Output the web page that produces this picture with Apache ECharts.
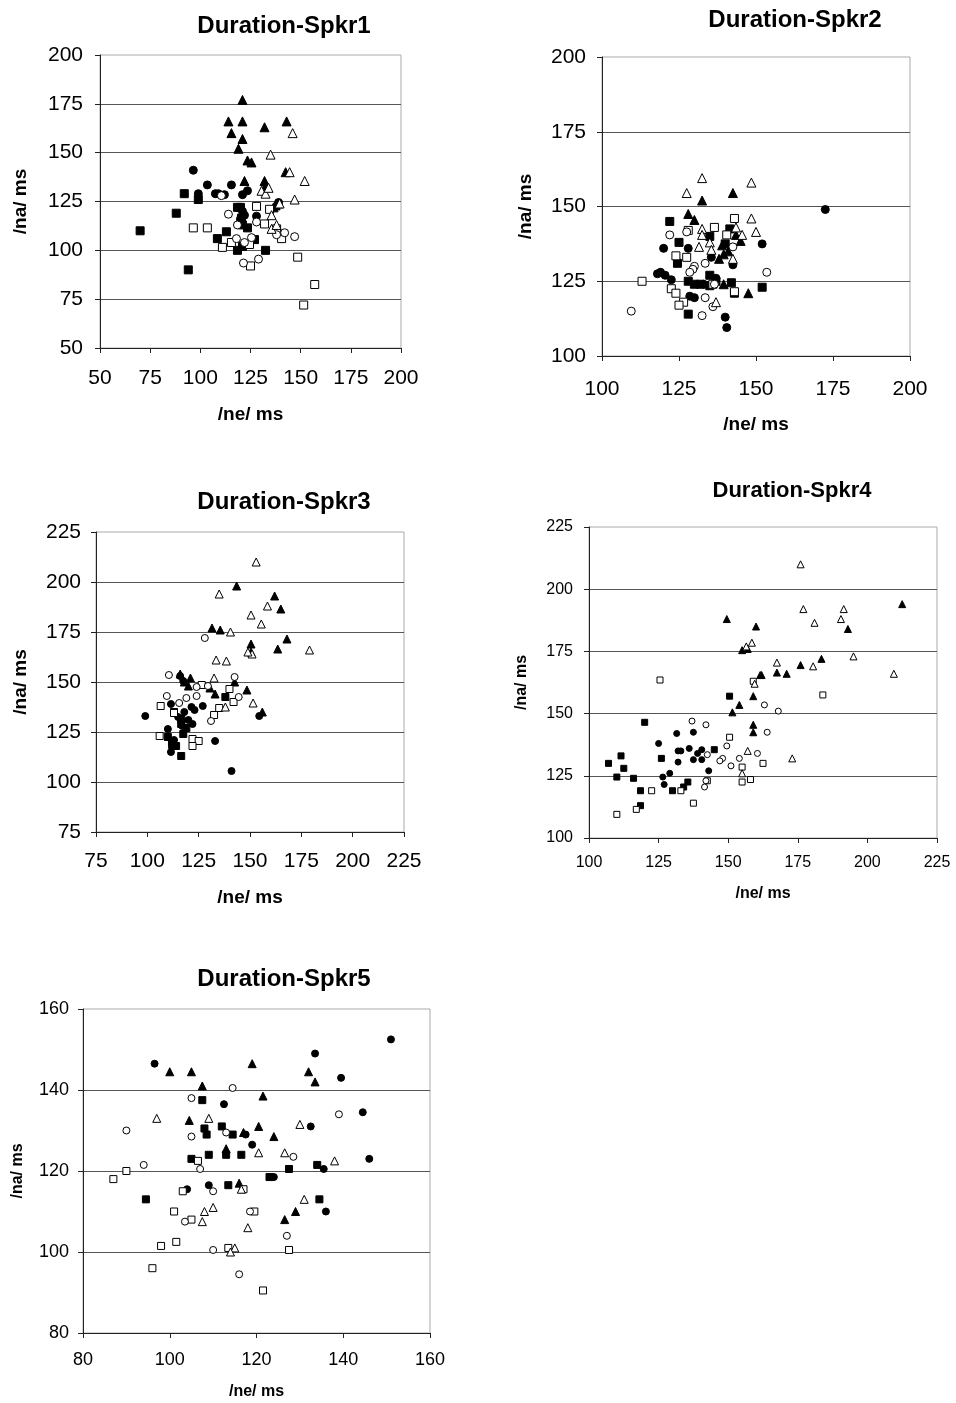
<!DOCTYPE html>
<html>
<head>
<meta charset="utf-8">
<title>Duration scatter plots</title>
<script src="https://cdn.jsdelivr.net/npm/echarts@6/dist/echarts.min.js"></script>
<style>
  html, body { margin: 0; padding: 0; background: #fff; }
  #main { width: 956px; height: 1403px; }
</style>
</head>
<body>
<div id="main"></div>
<script>
// ---- data: [/ne/ ms, /na/ ms] per marker type, per speaker ----
const spk1FilledSquare = [[70,110],[94,90],[88,119],[92,129],[99,126],[118.5,122],[120.5,116.5],[123.5,111.5],[113,109.5],[108.5,106],[127,105.5],[118.5,100],[121,102],[132.5,100],[121,113],[120,122]];
const spk1FilledCircle = [[96.5,141],[103.5,133.5],[115.5,133.5],[107.5,129],[109,129],[112,128.5],[99,129],[121,128.5],[123.5,130.5],[128,117.5],[122,118],[139,124.5],[121,120],[120,116]];
const spk1FilledTriangle = [[121,177],[114,166],[121,166],[132,163],[143,166],[115.5,160],[121,157],[119,152],[123.5,146],[125.5,145],[142.5,140],[122,135.5],[132,135.5],[132.5,133],[139,124],[137.5,123],[136.5,122]];
const spk1OpenSquare = [[96.5,111.5],[103.5,111.5],[111,101.5],[115.5,104],[124.5,103],[128,122.5],[134.5,121],[132,113.5],[140.5,106],[148.5,96.5],[157,82.5],[151.5,72],[125,92],[138,111]];
const spk1OpenCircle = [[114,118.5],[118.5,113],[128,114.5],[118,106],[125.5,106.5],[121.5,93.5],[129,95.5],[138,108],[142,109],[147,107],[110.5,128],[122,104]];
const spk1OpenTriangle = [[146,160],[135,149],[144.5,140],[152,135.5],[130.5,130.5],[132.5,129],[134,132],[147,126],[139.5,124],[135.5,118],[135.5,111],[138,113]];

const spk2FilledSquare = [[122,145],[125,138],[135,140],[141.5,142.5],[140,137.5],[124.5,131],[128,125],[132,124],[135,127],[135,123.5],[142,124.5],[143,121],[152,123],[128,114],[130,124],[137,125]];
const spk2FilledCircle = [[120,136],[128,136],[135.5,133],[142.5,130.5],[152,137.5],[119,128],[120.5,127],[122.5,125.5],[128.5,120],[130,119.5],[133,124],[137,126],[140,113],[140.5,109.5],[172.5,149],[118,127.5]];
const spk2FilledTriangle = [[142.5,154.5],[132.5,152],[128,147.5],[130,145.5],[143.5,140.5],[145,138.5],[138,132.5],[139.5,134],[141,135],[139.5,124],[147.5,121],[139,137]];
const spk2OpenSquare = [[143,146],[136.5,143],[128,142],[124,133.5],[127.5,133],[140.5,140.5],[113,125],[122.5,122.5],[124,121],[126.5,118],[125,117],[143,121.5],[136,124]];
const spk2OpenCircle = [[109.5,115],[122,140.5],[127.5,141.5],[142.5,136.5],[133.5,131],[130,130],[129.5,129],[128.5,128],[153.5,128],[136.5,124],[133.5,119.5],[136,116.5],[132.5,113.5]];
const spk2OpenTriangle = [[132.5,159.5],[148.5,158],[127.5,154.5],[132.5,142.5],[132.5,140.5],[148.5,146],[150,141.5],[143.5,143],[145.5,140.5],[135,138],[131.5,136.5],[135.5,135.5],[142.5,132.5],[137,118]];

const spk3FilledSquare = [[116.5,113],[114,118],[110,122.5],[117.5,124],[116.5,129],[116.5,131.5],[138,142.5],[112,120],[119,127],[113,135]];
const spk3FilledCircle = [[99,133],[141,105.5],[133,120.5],[154.5,133],[111.5,139],[116,153],[117.5,150.5],[121.5,137.5],[127,138],[122,129],[110,126.5],[112,117.5],[111.5,115],[115,132.5],[118,135],[123,136],[113,121],[117,128],[120,131]];
const spk3FilledTriangle = [[143.5,198],[162,193],[165,186.5],[131.5,177],[135.5,176],[168,171.5],[150.5,169],[163.5,166.5],[150.5,165],[148.5,146],[156,135],[133,144],[130.5,147],[116,154],[121,152],[142.5,150],[118,150],[120,148]];
const spk3OpenSquare = [[106.5,138],[113,134.5],[106,123],[122,121.5],[125,120.5],[122,118],[126.5,148.5],[140,146.5],[142,140],[135,137],[132.5,133.5]];
const spk3OpenCircle = [[128,172],[110.5,153.5],[124,147.5],[129.5,148],[142.5,152.5],[109.5,143],[119,142],[124,143],[115.5,139.5],[144.5,142.5],[131,130.5]];
const spk3OpenTriangle = [[153,210],[135,194],[158.5,188],[150.5,183.5],[155.5,179],[140.5,175],[179,166],[151,164],[133.5,161],[138.5,160.5],[132.5,152],[151.5,139.5],[138,137.5],[149,165]];

const spk4FilledSquare = [[107,130],[111.5,133],[112.5,128],[110,124.5],[116,124],[118.5,119],[118.5,113],[120,146.5],[126,132],[130,119],[134,120.5],[135.5,122.5],[145,135.5],[150.5,157]];
const spk4FilledCircle = [[125,138],[131.5,142],[137.5,142.5],[132,135],[133,135],[136,136],[139,134],[140.5,135.5],[132,130.5],[137.5,131.5],[140.5,131.5],[126.5,124.5],[129,126],[127,121.5],[143,127]];
const spk4FilledTriangle = [[149.5,188],[160,185],[155,175.5],[162,165.5],[159,157],[154,153.5],[151.5,150.5],[159,145.5],[159,142.5],[212.5,194],[193,184],[167.5,166.5],[171,166],[176,169.5],[183.5,172],[161.5,165.5],[157,176]];
const spk4OpenSquare = [[125.5,163.5],[159,163],[150.5,140.5],[155,128.5],[155,122.5],[158,123.5],[162.5,130],[122.5,119],[133,119],[137.5,114],[117,111.5],[110,109.5],[142.5,123],[184,157.5]];
const spk4OpenCircle = [[137,147],[142,145.5],[142.5,133.5],[149.5,137],[148,132],[147,131],[151,129],[154,132],[160.5,134],[163,153.5],[164,142.5],[141.5,120.5],[168,151],[142,123]];
const spk4OpenTriangle = [[158.5,178.5],[156.5,177],[159.5,162],[157,135],[155,126],[176,210],[177,192],[191.5,192],[181,186.5],[190.5,188],[195,173],[209.5,166],[167.5,170.5],[180.5,169],[173,132]];

const spk5FilledSquare = [[107.5,137.5],[108,130.5],[108.5,129],[112,131],[114.5,129],[105,123],[109,124],[113,124],[116.5,124],[113.5,116.5],[94.5,113],[127.5,120.5],[134,121.5],[123,118.5],[134.5,113]];
const spk5FilledCircle = [[96.5,146.5],[112.5,136.5],[117.5,129],[119,126.5],[104,115.5],[109,116.5],[151,152.5],[133.5,149],[139.5,143],[144.5,134.5],[132.5,131],[146,123],[135.5,120.5],[136,110],[124,118.5]];
const spk5FilledTriangle = [[100,144.5],[105,144.5],[107.5,141],[104.5,132.5],[117,129.5],[113,125.5],[116,117],[120.5,131],[119,146.5],[132,144.5],[133.5,142],[121.5,138.5],[124,128.5],[129,110],[126.5,108]];
const spk5OpenSquare = [[87,118],[90,120],[106.5,122.5],[101,110],[103,115],[105,108],[101.5,102.5],[98,101.5],[96,96],[113.5,101],[117,115.5],[119.5,110],[127.5,100.5],[121.5,90.5]];
const spk5OpenCircle = [[90,130],[105,138],[114.5,140.5],[105,128.5],[113,129.5],[94,121.5],[107,120.5],[110,115],[103.5,107.5],[110,100.5],[116,94.5],[118.5,110],[139,134],[128.5,123.5],[127,104]];
const spk5OpenTriangle = [[97,133],[109,133],[108,110],[110,111],[107.5,107.5],[118,106],[115,101],[114,100],[116.5,115.5],[120.5,124.5],[130,131.5],[126.5,124.5],[138,122.5],[131,113]];

const titles = ['Duration-Spkr1','Duration-Spkr2','Duration-Spkr3','Duration-Spkr4','Duration-Spkr5'];
const xName = '/ne/ ms';
const yName = '/na/ ms';
const xRanges = [[50,200,25],[100,200,25],[75,225,25],[100,225,25],[80,160,20]];
const yRanges = [[50,200,25],[100,200,25],[75,225,25],[100,225,25],[80,160,20]];

const speakers = [
  [spk1FilledSquare, spk1FilledCircle, spk1FilledTriangle, spk1OpenSquare, spk1OpenCircle, spk1OpenTriangle],
  [spk2FilledSquare, spk2FilledCircle, spk2FilledTriangle, spk2OpenSquare, spk2OpenCircle, spk2OpenTriangle],
  [spk3FilledSquare, spk3FilledCircle, spk3FilledTriangle, spk3OpenSquare, spk3OpenCircle, spk3OpenTriangle],
  [spk4FilledSquare, spk4FilledCircle, spk4FilledTriangle, spk4OpenSquare, spk4OpenCircle, spk4OpenTriangle],
  [spk5FilledSquare, spk5FilledCircle, spk5FilledTriangle, spk5OpenSquare, spk5OpenCircle, spk5OpenTriangle]
];

// ---- layout / style ----
const FONT = '"Liberation Sans", Arial, sans-serif';
const panels = [
  {left:100, top:55,   w:301, h:293, titleX:279, titleY:9,   titleSize:24, tick:21, xm:20, ym:17, nameSize:19, xGap:57, yGap:70, sym:8},
  {left:602, top:57,   w:308, h:299, titleX:790, titleY:3,   titleSize:24, tick:21, xm:23, ym:16, nameSize:19, xGap:59, yGap:67, sym:8},
  {left:96,  top:532,  w:308, h:300, titleX:279, titleY:485, titleSize:24, tick:21, xm:19, ym:15, nameSize:19, xGap:56, yGap:66, sym:7},
  {left:589, top:527,  w:348, h:311, titleX:787, titleY:475, titleSize:22, tick:16, xm:17, ym:16, nameSize:16, xGap:48, yGap:59, sym:6},
  {left:83,  top:1009, w:347, h:324, titleX:279, titleY:962, titleSize:24, tick:18, xm:18, ym:14, nameSize:16, xGap:51, yGap:57, sym:7}
];
const markerTypes = [
  {name:'filled square',   symbol:'rect',     fill:'#000'},
  {name:'filled circle',   symbol:'circle',   fill:'#000'},
  {name:'filled triangle', symbol:'triangle', fill:'#000'},
  {name:'open square',     symbol:'rect',     fill:'#fff'},
  {name:'open circle',     symbol:'circle',   fill:'#fff'},
  {name:'open triangle',   symbol:'triangle', fill:'#fff'}
];

const option = {
  backgroundColor: '#fff',
  animation: false,
  textStyle: { fontFamily: FONT },
  title: [], grid: [], xAxis: [], yAxis: [], series: []
};

panels.forEach((p, i) => {
  option.title.push({
    text: titles[i], left: p.titleX, top: p.titleY, textAlign: 'center',
    textStyle: { fontFamily: FONT, fontWeight: 'bold', fontSize: p.titleSize, color: '#000' }
  });
  option.grid.push({
    left: p.left, top: p.top, width: p.w, height: p.h,
    show: true, backgroundColor: '#fff', borderColor: '#aaa', borderWidth: 1
  });
  const axisCommon = {
    nameLocation: 'middle',
    nameTextStyle: { fontFamily: FONT, fontWeight: 'bold', fontSize: p.nameSize, color: '#000' },
    axisLine: { show: true, onZero: false, lineStyle: { color: '#222', width: 1 } },
    axisTick: { show: true, inside: false, length: 5, lineStyle: { color: '#222' } }
  };
  option.xAxis.push(Object.assign({}, axisCommon, {
    type: 'value', gridIndex: i, name: xName, nameGap: p.xGap,
    min: xRanges[i][0], max: xRanges[i][1], interval: xRanges[i][2],
    axisLabel: { fontFamily: FONT, fontSize: p.tick, color: '#000', margin: p.xm },
    splitLine: { show: false }
  }));
  option.yAxis.push(Object.assign({}, axisCommon, {
    type: 'value', gridIndex: i, name: yName, nameGap: p.yGap, nameRotate: 90,
    min: yRanges[i][0], max: yRanges[i][1], interval: yRanges[i][2],
    axisLabel: { fontFamily: FONT, fontSize: p.tick, color: '#000', margin: p.ym },
    splitLine: { show: true, showMaxLine: false, showMinLine: false, lineStyle: { color: '#555', width: 1 } }
  }));
  speakers[i].forEach((pts, k) => {
    const m = markerTypes[k];
    option.series.push({
      type: 'scatter', name: m.name, xAxisIndex: i, yAxisIndex: i,
      data: pts, symbol: m.symbol,
      symbolSize: m.symbol === 'triangle' ? p.sym + 1 : p.sym,
      itemStyle: { color: m.fill, borderColor: '#000', borderWidth: 1, opacity: 1 },
      emphasis: { disabled: true }
    });
  });
});

const chart = echarts.init(document.getElementById('main'), null, { renderer: 'canvas' });
chart.setOption(option);
</script>
</body>
</html>
